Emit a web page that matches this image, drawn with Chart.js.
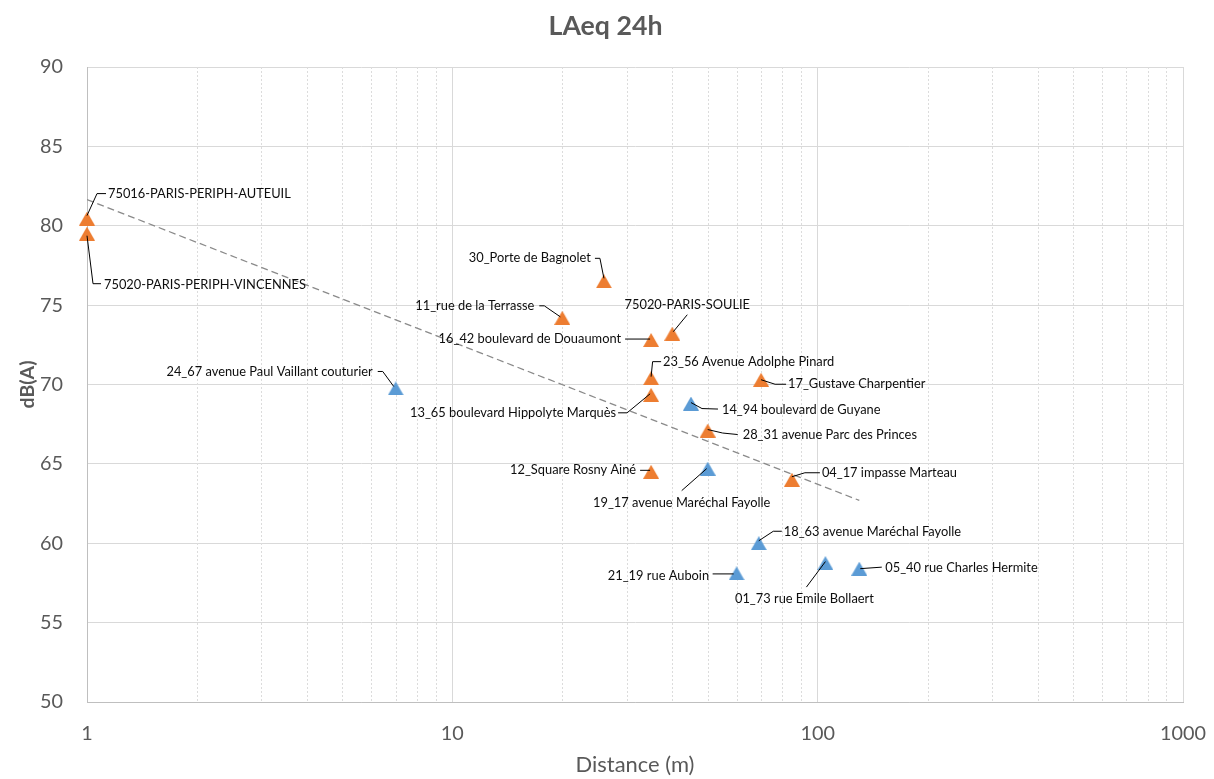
<!DOCTYPE html>
<html>
<head>
<meta charset="utf-8">
<script src="https://cdn.jsdelivr.net/npm/chart.js@4/dist/chart.umd.min.js"></script>
<style>
html,body{margin:0;padding:0;background:#fff;}
canvas{display:block;}
</style>
</head>
<body>
<canvas id="c" width="1214" height="779"></canvas>
<script>
// ---------- DATA ----------
const chartTitle = "LAeq 24h";
const xAxisTitle = "Distance (m)";
const yAxisTitle = "dB(A)";
const xTickValues = [1, 10, 100, 1000];
const yMin = 50, yMax = 90, yStep = 5;

const orangeNames = [
  "75016-PARIS-PERIPH-AUTEUIL",
  "75020-PARIS-PERIPH-VINCENNES",
  "30_Porte de Bagnolet",
  "11_rue de la Terrasse",
  "75020-PARIS-SOULIE",
  "16_42 boulevard de Douaumont",
  "23_56 Avenue Adolphe Pinard",
  "13_65 boulevard Hippolyte Marquès",
  "17_Gustave Charpentier",
  "28_31 avenue Parc des Princes",
  "12_Square Rosny Ainé",
  "04_17 impasse Marteau"
];
const orangeDistance = [1, 1, 26, 20, 40, 35, 35, 35, 70, 50, 35, 85];
const orangeLAeq = [80.45, 79.5, 76.5, 74.2, 73.2, 72.8, 70.4, 69.35, 70.3, 67.1, 64.5, 64.0];

const blueNames = [
  "24_67 avenue Paul Vaillant couturier",
  "14_94 boulevard de Guyane",
  "19_17 avenue Maréchal Fayolle",
  "18_63 avenue Maréchal Fayolle",
  "21_19 rue Auboin",
  "01_73 rue Emile Bollaert",
  "05_40 rue Charles Hermite"
];
const blueDistance = [7, 45, 50, 69, 60, 105, 130];
const blueLAeq = [69.75, 68.8, 64.7, 60.0, 58.1, 58.75, 58.4];

const trendDistance = [1, 130];
const trendLAeq = [81.65, 62.7];

// ---------- LABEL LAYOUT (pixel offsets relative to each marker) ----------
// t: text anchor offset, a: alignment (l/r/c), l: leader polyline offsets
const orangeLabelLayout = [
  {t:[21,-25], a:'l', l:[[0,-3],[10,-25],[19,-25]]},
  {t:[17,51],  a:'l', l:[[0,2],[6,50],[14,50]]},
  {t:[-13,-23],a:'r', l:[[-9,-23],[-4,-23],[0,-3]]},
  {t:[-28,-12],a:'r', l:[[-23,-12],[-18,-12],[-2,-1]]},
  {t:[15,-29], a:'c', l:[[15,-19],[1,-2]]},
  {t:[-30,-1], a:'r', l:[[-26,-1],[-1,-1]]},
  {t:[12,-16.5],a:'l',l:[[10,-16.5],[1.5,-16.5],[0,-1.5]]},
  {t:[-35,18], a:'r', l:[[-33,18],[-24,18],[-1,-1]]},
  {t:[27,4.5], a:'l', l:[[0,0],[14,4.5],[25,4.5]]},
  {t:[35,4.5], a:'l', l:[[0,-1],[15,2.5],[30,4]]},
  {t:[-15,-1.5],a:'r',l:[[-11,-1.5],[-1,-1.5]]},
  {t:[30,-6.5],a:'l', l:[[0,-3],[13,-7],[28,-7]]}
];
const blueLabelLayout = [
  {t:[-23,-16.5],a:'r',l:[[-18,-17],[-13,-17],[-2,-2]]},
  {t:[31,6.5], a:'l', l:[[0,-1],[11,5],[27,5.5]]},
  {t:[-26,34], a:'c', l:[[-26,22],[-1,0]]},
  {t:[25,-11.5],a:'l',l:[[0,-2.5],[14.5,-12],[23,-12]]},
  {t:[-27.5,2.5],a:'r',l:[[-24,0.5],[-3,0.5]]},
  {t:[-21,36], a:'c', l:[[-19,24],[0,-1.5]]},
  {t:[26,-0.5],a:'l', l:[[1,0],[22.5,-1.5]]}
];

// ---------- STYLE ----------
const FONT = "Lato";
const orangeColor = "#ED7D31";
const blueColor = "#5B9BD5";
const textGray = "#595959";

const mctx = document.createElement('canvas').getContext('2d');
function fitSize(text, weight, target) {
  mctx.font = weight + " 100px " + FONT;
  return 100 * target / mctx.measureText(text).width;
}
const titleSize = fitSize(chartTitle, "bold", 114);
const tickSize = fitSize("1000", "normal", 46);
const xTitleSize = fitSize(xAxisTitle, "normal", 119);
const yTitleSize = fitSize(yAxisTitle, "bold", 48);
const labelSize = fitSize("16_42 boulevard de Douaumont|14_94 boulevard de Guyane|04_17 impasse Marteau", "normal", 475 + 2 * 4);

function triangle(color) {
  const c = document.createElement('canvas');
  c.width = 16; c.height = 14;
  const g = c.getContext('2d');
  g.fillStyle = color;
  g.beginPath();
  g.moveTo(8, 0); g.lineTo(16, 14); g.lineTo(0, 14); g.closePath();
  g.fill();
  return c;
}

const toPoints = (xs, ys) => xs.map((x, i) => ({x: x, y: ys[i]}));

const titlePlugin = {
  id: 'mainTitle',
  afterDraw(chart) {
    const ctx = chart.ctx;
    ctx.save();
    ctx.font = "bold " + titleSize + "px " + FONT;
    ctx.fillStyle = textGray;
    ctx.textAlign = 'center';
    ctx.textBaseline = 'middle';
    ctx.fillText(chartTitle, 605.5, 26);
    ctx.restore();
  }
};

const minorGridPlugin = {
  id: 'minorGrid',
  beforeDatasetsDraw(chart) {
    const xs = chart.scales.x;
    const {top, bottom} = chart.chartArea;
    const ctx = chart.ctx;
    ctx.save();
    ctx.strokeStyle = '#dcdcdc';
    ctx.lineWidth = 1;
    ctx.setLineDash([2, 2]);
    for (let d = 1; d < 1000; d *= 10) {
      for (let m = 2; m <= 9; m++) {
        const px = Math.round(xs.getPixelForValue(d * m)) + 0.5;
        ctx.beginPath();
        ctx.moveTo(px, top);
        ctx.lineTo(px, bottom);
        ctx.stroke();
      }
    }
    ctx.restore();
  }
};

const labelPlugin = {
  id: 'pointLabels',
  afterDatasetsDraw(chart) {
    const ctx = chart.ctx;
    const groups = [[0, orangeNames, orangeLabelLayout], [1, blueNames, blueLabelLayout]];
    groups.forEach(([di, names, lay]) => {
      const meta = chart.getDatasetMeta(di);
      meta.data.forEach((pt, i) => {
        const L = lay[i];
        const x = pt.x, y = pt.y;
        ctx.save();
        ctx.strokeStyle = '#000';
        ctx.lineWidth = 1;
        ctx.beginPath();
        L.l.forEach(([dx, dy], k) => {
          if (k === 0) ctx.moveTo(x + dx, y + dy); else ctx.lineTo(x + dx, y + dy);
        });
        ctx.stroke();
        ctx.fillStyle = '#0d0d0d';
        ctx.font = labelSize + "px " + FONT;
        ctx.textAlign = {l: 'left', r: 'right', c: 'center'}[L.a];
        ctx.textBaseline = 'middle';
        ctx.fillText(names[i], x + L.t[0], y + L.t[1]);
        ctx.restore();
      });
    });
  }
};

new Chart(document.getElementById('c'), {
  type: 'scatter',
  data: {
    datasets: [
      {
        label: 'orange',
        data: toPoints(orangeDistance, orangeLAeq),
        pointStyle: triangle(orangeColor),
        backgroundColor: orangeColor,
        borderColor: orangeColor,
        clip: false,
        order: 1
      },
      {
        label: 'blue',
        data: toPoints(blueDistance, blueLAeq),
        pointStyle: triangle(blueColor),
        backgroundColor: blueColor,
        borderColor: blueColor,
        clip: false,
        order: 2
      },
      {
        label: 'trend',
        data: toPoints(trendDistance, trendLAeq),
        showLine: true,
        borderColor: '#8a8a8a',
        borderWidth: 1.3,
        borderDash: [7, 4],
        pointRadius: 0,
        fill: false,
        order: 0
      }
    ]
  },
  options: {
    responsive: false,
    animation: false,
    devicePixelRatio: 1,
    layout: {padding: {top: 67, right: 31, left: 0, bottom: 0}},
    plugins: {
      legend: {display: false},
      tooltip: {enabled: false},
      title: {display: false}
    },
    scales: {
      x: {
        type: 'logarithmic',
        min: 1,
        max: 1000,
        afterBuildTicks: (s) => { s.ticks = xTickValues.map(v => ({value: v, major: true})); },
        afterFit: (s) => { s.height = 77; },
        ticks: {
          autoSkip: false,
          maxRotation: 0,
          padding: 0,
          color: textGray,
          font: {family: FONT, size: tickSize},
          callback: (v) => String(v)
        },
        grid: {color: '#d9d9d9', lineWidth: 1, drawTicks: true, tickLength: 20, tickColor: 'rgba(0,0,0,0)'},
        border: {display: true, color: '#bfbfbf', width: 1},
        title: {
          display: true,
          text: xAxisTitle,
          color: textGray,
          font: {family: FONT, size: xTitleSize},
          padding: {top: 0, bottom: 1}
        }
      },
      y: {
        min: yMin,
        max: yMax,
        afterFit: (s) => { s.width = 87; },
        ticks: {
          stepSize: yStep,
          padding: 24,
          color: textGray,
          font: {family: FONT, size: tickSize}
        },
        grid: {color: '#d9d9d9', lineWidth: 1, drawTicks: false},
        border: {display: true, color: '#bfbfbf', width: 1},
        title: {
          display: true,
          text: yAxisTitle,
          color: textGray,
          font: {family: FONT, size: yTitleSize, weight: 'bold'},
          padding: {top: 16, bottom: 0}
        }
      }
    }
  },
  plugins: [minorGridPlugin, labelPlugin, titlePlugin]
});
</script>
</body>
</html>
